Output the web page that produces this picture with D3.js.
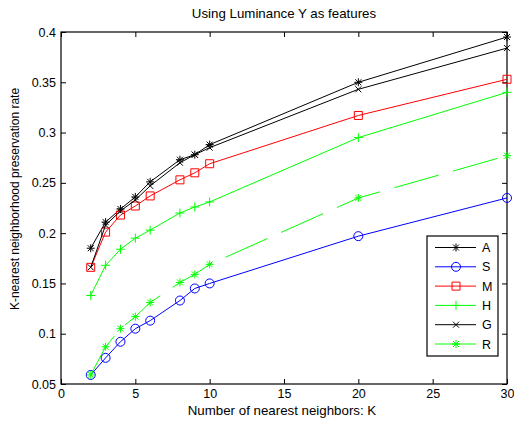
<!DOCTYPE html>
<html>
<head>
<meta charset="utf-8">
<script src="https://cdn.jsdelivr.net/npm/d3@7"></script>
<style>
  body { margin: 0; background: #fff; }
  svg { display: block; font-family: "Liberation Sans", Arial, sans-serif; }
</style>
</head>
<body>
<div id="chart"></div>
<script>
// neighbour counts on the x axis
const kValues = [2, 3, 4, 5, 6, 8, 9, 10, 20, 30];

// preservation rate per method
const seriesA = [0.185, 0.211, 0.224, 0.236, 0.251, 0.273, 0.278, 0.288, 0.350, 0.395];
const seriesS = [0.059, 0.076, 0.092, 0.105, 0.113, 0.133, 0.145, 0.150, 0.197, 0.235];
const seriesM = [0.166, 0.201, 0.218, 0.227, 0.237, 0.253, 0.260, 0.269, 0.317, 0.353];
const seriesH = [0.138, 0.168, 0.184, 0.195, 0.203, 0.220, 0.226, 0.231, 0.295, 0.340];
const seriesG = [0.166, 0.208, 0.222, 0.233, 0.247, 0.270, 0.278, 0.285, 0.343, 0.384];
const seriesR = [0.059, 0.087, 0.105, 0.117, 0.131, 0.151, 0.159, 0.169, 0.235, 0.277];

const seriesNames = ["A", "S", "M", "H", "G", "R"];
const xTicks = [0, 5, 10, 15, 20, 25, 30];
const yTicks = [0.05, 0.1, 0.15, 0.2, 0.25, 0.3, 0.35, 0.4];

const styles = {
  A: { color: "#000", marker: "star" },
  S: { color: "#0000ff", marker: "circle" },
  M: { color: "#ff0000", marker: "square" },
  H: { color: "#00ff00", marker: "plus" },
  G: { color: "#000", marker: "cross" },
  R: { color: "#00ff00", marker: "star", dash: "46,15" }
};
const values = { A: seriesA, S: seriesS, M: seriesM, H: seriesH, G: seriesG, R: seriesR };

const width = 514, height = 421;
const box = { left: 61, right: 507, top: 32, bottom: 384 };

const svg = d3.select("#chart").append("svg")
  .attr("width", width)
  .attr("height", height);

const x = d3.scaleLinear().domain([0, 30]).range([box.left, box.right]);
const y = d3.scaleLinear().domain([0.05, 0.4]).range([box.bottom, box.top]);

// axes on all four sides, ticks pointing in
const fmt = d => String(+d.toFixed(2));
svg.append("g").attr("transform", `translate(0,${box.bottom})`)
  .call(d3.axisBottom(x).tickValues(xTicks).tickSizeInner(-5).tickSizeOuter(0).tickPadding(5).tickFormat(fmt));
svg.append("g").attr("transform", `translate(0,${box.top})`)
  .call(d3.axisTop(x).tickValues(xTicks).tickSizeInner(-5).tickSizeOuter(0).tickFormat(""));
svg.append("g").attr("transform", `translate(${box.left},0)`)
  .call(d3.axisLeft(y).tickValues(yTicks).tickSizeInner(-5).tickSizeOuter(0).tickPadding(5).tickFormat(fmt));
svg.append("g").attr("transform", `translate(${box.right},0)`)
  .call(d3.axisRight(y).tickValues(yTicks).tickSizeInner(-5).tickSizeOuter(0).tickFormat(""));

svg.selectAll(".domain").remove();
svg.selectAll(".tick line").attr("stroke", "#000");
svg.selectAll(".tick text").attr("font-size", 12.5).attr("fill", "#000").attr("font-family", "Liberation Sans, Arial, sans-serif");

svg.append("rect")
  .attr("x", box.left).attr("y", box.top)
  .attr("width", box.right - box.left).attr("height", box.bottom - box.top)
  .attr("fill", "none").attr("stroke", "#000").attr("stroke-width", 1.2);

function markerPath(type) {
  switch (type) {
    case "star":
      return "M-4,0H4M0,-4V4M-3,-3L3,3M-3,3L3,-3";
    case "plus":
      return "M-4.5,0H4.5M0,-4.5V4.5";
    case "cross":
      return "M-3,-3L3,3M-3,3L3,-3";
    case "square":
      return "M-4,-4H4V4H-4Z";
    case "circle":
      return "M4.5,0A4.5,4.5 0 1,1 -4.5,0A4.5,4.5 0 1,1 4.5,0Z";
  }
}

const line = d3.line().x(d => x(d[0])).y(d => y(d[1]));

const plot = svg.append("g");
seriesNames.forEach(name => {
  const st = styles[name];
  const pts = kValues.map((k, i) => [k, values[name][i]]);
  plot.append("path")
    .attr("d", line(pts))
    .attr("fill", "none")
    .attr("stroke", st.color)
    .attr("stroke-width", 1)
    .attr("stroke-dasharray", st.dash || null);
  plot.selectAll(null).data(pts).enter().append("path")
    .attr("transform", d => `translate(${x(d[0])},${y(d[1])})`)
    .attr("d", markerPath(st.marker))
    .attr("fill", "none")
    .attr("stroke", st.color)
    .attr("stroke-width", 1);
});

// title and axis labels
svg.append("text")
  .attr("x", (box.left + box.right) / 2).attr("y", 18)
  .attr("text-anchor", "middle").attr("font-size", 13.3)
  .text("Using Luminance Y as features");
svg.append("text")
  .attr("x", 282).attr("y", 415)
  .attr("text-anchor", "middle").attr("font-size", 13.3)
  .text("Number of nearest neighbors: K");
svg.append("text")
  .attr("transform", "translate(19,199) rotate(-90)")
  .attr("text-anchor", "middle").attr("font-size", 12)
  .text("K-nearest neighborhood preservation rate");

// legend
const legend = svg.append("g");
legend.append("rect")
  .attr("x", 427).attr("y", 236)
  .attr("width", 71).attr("height", 120)
  .attr("fill", "#fff").attr("stroke", "#000").attr("stroke-width", 1.2);
seriesNames.forEach((name, i) => {
  const st = styles[name];
  const ly = 247.5 + i * 19.3;
  legend.append("line")
    .attr("x1", 435).attr("x2", 476).attr("y1", ly).attr("y2", ly)
    .attr("stroke", st.color).attr("stroke-width", 1);
  legend.append("path")
    .attr("transform", `translate(456,${ly})`)
    .attr("d", markerPath(st.marker))
    .attr("fill", "none").attr("stroke", st.color).attr("stroke-width", 1);
  legend.append("text")
    .attr("x", 482).attr("y", ly + 4.5)
    .attr("font-size", 12.5)
    .text(name);
});
</script>
</body>
</html>
